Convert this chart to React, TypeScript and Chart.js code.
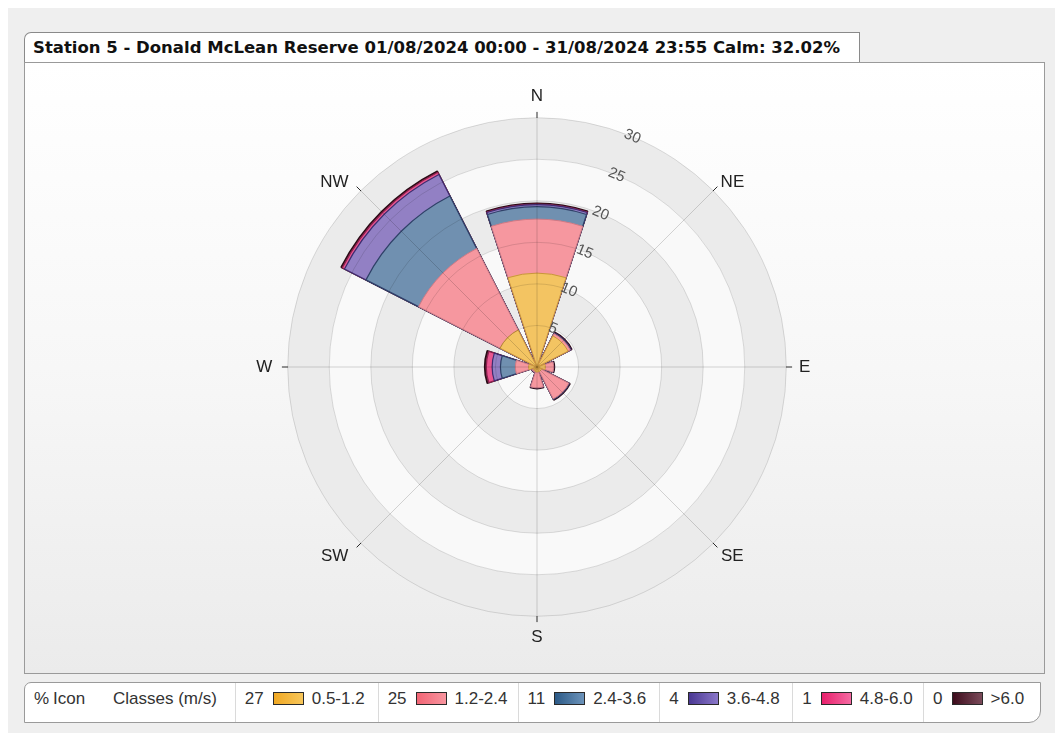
import React, { useEffect, useRef } from 'react';
import { Chart, registerables } from 'chart.js';

Chart.register(...registerables);

// ---------- data ----------
const titleText = 'Station 5 - Donald McLean Reserve 01/08/2024 00:00 - 31/08/2024 23:55 Calm: 32.02%';
const directions = ['N', 'NE', 'E', 'SE', 'S', 'SW', 'W', 'NW'];
const speedClasses = ['0.5-1.2', '1.2-2.4', '2.4-3.6', '3.6-4.8', '4.8-6.0', '>6.0'];
const classPercent = [27, 25, 11, 4, 1, 0];
const compassLabels = ['', 'NE', '', 'E', '', 'SE', '', 'S', '', 'SW', '', 'W', '', 'NW', '', 'N'];
const tickValues = [0, 5, 10, 15, 20, 25, 30];

// frequency (%) per direction, order: N, NE, E, SE, S, SW, W, NW
const class05to12 = [11.3, 4.2, 1.0, 0.6, 0.6, 0.5, 1.0, 5.0];
const class12to24 = [6.5, 0.3, 1.0, 3.7, 1.9, 0.2, 1.6, 11.0];
const class24to36 = [1.5, 0.05, 0.0, 0.05, 0.0, 0.0, 1.8, 7.1];
const class36to48 = [0.25, 0.05, 0.0, 0.0, 0.0, 0.0, 1.0, 2.9];
const class48to60 = [0.06, 0.0, 0.0, 0.0, 0.0, 0.0, 0.7, 0.3];
const classAbove60 = [0.1, 0.1, 0.1, 0.1, 0.1, 0.0, 0.2, 0.15];

const classValues = [class05to12, class12to24, class24to36, class36to48, class48to60, classAbove60];

// ---------- styles ----------
const barFills = ['#f3c462', '#f6979f', '#7090b0', '#9280c4', '#ea5790', '#5e2a3c'];
const barBorders = ['#c9953c', '#cf7a85', '#2f4168', '#3e2c70', '#8c1f4e', '#2a0c16'];
const barBorderWidths = [1, 1, 1.2, 1.2, 1.2, 1.6];
const iconFrom = ['#f0a823', '#f26575', '#2c5a87', '#4a3893', '#e8206c', '#3d0c1c'];
const iconTo = ['#f7c65a', '#f8959f', '#6c93ba', '#8a77c9', '#f56aa2', '#7b4b5a'];

// point label placement tweaks (padding in px, and spacing added to the text side)
const labelPadding: Record<string, number> = { N: -2, S: -2, E: -0.5, W: 2, NE: -16.3, NW: -16.3, SE: -9.2, SW: -9.2 };
const labelLead: Record<string, string> = { NE: '  ', SE: ' ' };
const labelTrail: Record<string, string> = { NW: '   ', SW: '  ' };

// sectors: start at 22.5deg (half-gap), bars 36deg wide, gaps 9deg
const barOrder = ['NE', 'E', 'SE', 'S', 'SW', 'W', 'NW', 'N'];
const barAngle = 36;
const gapAngle = 9;
const scaleMax = 30.7;

function buildSequence(values: number[]): number[] {
  const out: number[] = [0];
  barOrder.forEach((d) => {
    out.push(values[directions.indexOf(d)]);
    out.push(0);
  });
  return out;
}

function buildAngles(): number[] {
  const out: number[] = [gapAngle / 2];
  barOrder.forEach((_, i) => {
    out.push(barAngle);
    out.push(i === barOrder.length - 1 ? gapAngle / 2 : gapAngle);
  });
  return out;
}

const bandsPlugin = {
  id: 'roseBands',
  beforeDatasetsDraw(chart: any) {
    const s = chart.scales.r;
    const ctx = chart.ctx;
    ctx.save();
    for (let i = tickValues.length - 1; i > 0; i--) {
      const r = s.getDistanceFromCenterForValue(tickValues[i]);
      ctx.beginPath();
      ctx.arc(s.xCenter, s.yCenter, r, 0, Math.PI * 2);
      ctx.fillStyle = i % 2 === 0 ? '#ebebeb' : '#f9f9f9';
      ctx.fill();
    }
    ctx.restore();
  },
};

function angleLineColor(c: any) {
  if (!c.label) return 'rgba(0,0,0,0)';
  const s = c.chart.scales.r;
  const rMax = s.getDistanceFromCenterForValue(scaleMax);
  const rOuter = s.getDistanceFromCenterForValue(tickValues[tickValues.length - 1]);
  const g = c.chart.ctx.createRadialGradient(s.xCenter, s.yCenter, 0, s.xCenter, s.yCenter, rMax);
  const t = rOuter / rMax;
  g.addColorStop(0, 'rgba(0,0,0,0.16)');
  g.addColorStop(Math.max(0, t - 0.001), 'rgba(0,0,0,0.16)');
  g.addColorStop(t, 'rgba(40,40,40,1)');
  g.addColorStop(1, 'rgba(40,40,40,1)');
  return g;
}

export default function App() {
  const ref = useRef<HTMLCanvasElement>(null);

  useEffect(() => {
    const angles = buildAngles();
    const cumulative: number[][] = [];
    classValues.forEach((vals, k) => {
      cumulative.push(vals.map((v, d) => v + (k > 0 ? cumulative[k - 1][d] : 0)));
    });
    const seqLabels = buildSequence(directions.map(() => 0)).map((_, i) => String(i));
    const datasets = cumulative.map((cum, k) => {
      const seq = buildSequence(cum);
      return {
        label: speedClasses[k],
        data: seq,
        angle: angles,
        backgroundColor: barFills[k],
        borderColor: barBorders[k],
        borderWidth: seq.map((_, i) => (i % 2 === 1 ? barBorderWidths[k] : 0)),
      };
    });

    const chart = new Chart(ref.current as HTMLCanvasElement, {
      type: 'polarArea',
      data: { labels: seqLabels, datasets: datasets as any },
      options: {
        responsive: false,
        animation: false,
        layout: { padding: 0 },
        plugins: { legend: { display: false }, tooltip: { enabled: false } },
        scales: {
          r: {
            type: 'radialLinear',
            min: 0,
            max: scaleMax,
            startAngle: 22.5,
            labels: compassLabels,
            afterBuildTicks: (axis: any) => {
              axis.ticks = tickValues.map((v) => ({ value: v }));
            },
            ticks: {
              display: true,
              z: 2,
              showLabelBackdrop: false,
              backdropPadding: 0,
              color: '#555',
              font: { family: 'Liberation Sans, Arial, sans-serif', size: 15 },
            },
            grid: { z: 1, circular: true, color: 'rgba(0,0,0,0.12)', lineWidth: 1 },
            angleLines: {
              display: true,
              color: angleLineColor,
              lineWidth: (c: any) => (c.label ? 1 : 0),
            },
            pointLabels: {
              display: true,
              padding: (c: any) => (c.label ? labelPadding[String(c.label).trim()] ?? 0 : 0),
              color: '#222',
              font: { family: 'Liberation Sans, Arial, sans-serif', size: 17 },
              callback: (label: string) => (label ? (labelLead[label] || '') + label + (labelTrail[label] || '') : ''),
            },
          } as any,
        },
      } as any,
      plugins: [bandsPlugin],
    });
    return () => chart.destroy();
  }, []);

  const cellWidths = [210, 143, 140, 142, 133, 131, 117];
  const legendFont = 'Liberation Sans, Arial, sans-serif';

  return (
    <div
      style={{
        position: 'absolute',
        left: 8,
        top: 8,
        width: 1047,
        height: 725,
        background: '#efefef',
        overflow: 'hidden',
      }}
    >
      {/* plot frame */}
      <div
        style={{
          position: 'absolute',
          left: 16,
          top: 54,
          width: 1021,
          height: 612,
          boxSizing: 'border-box',
          border: '1px solid #9a9a9a',
          background: 'linear-gradient(180deg, #ffffff 0%, #f7f7f7 50%, #ebebeb 100%)',
        }}
      />
      {/* title tab */}
      <div
        style={{
          position: 'absolute',
          left: 16,
          top: 24,
          width: 836,
          height: 30,
          boxSizing: 'border-box',
          borderTop: '1px solid #8a8a8a',
          borderLeft: '1px solid #8a8a8a',
          borderRight: '1px solid #8a8a8a',
          borderTopLeftRadius: 7,
          background: '#ffffff',
          fontFamily: 'DejaVu Sans, Verdana, sans-serif',
          fontWeight: 'bold',
          fontSize: 16.5,
          lineHeight: '29px',
          color: '#111',
          paddingLeft: 8,
          whiteSpace: 'nowrap',
        }}
      >
        {titleText}
      </div>
      {/* chart */}
      <canvas
        ref={ref}
        width={700}
        height={563}
        style={{ position: 'absolute', left: 179, top: 78, width: 700, height: 563 }}
      />
      {/* legend */}
      <div
        style={{
          position: 'absolute',
          left: 16,
          top: 674,
          width: 1017,
          height: 41,
          boxSizing: 'border-box',
          border: '1px solid #9a9a9a',
          borderTopLeftRadius: 7,
          borderBottomRightRadius: 12,
          background: '#ffffff',
          display: 'flex',
          fontFamily: legendFont,
          fontSize: 17,
          color: '#333',
          whiteSpace: 'nowrap',
        }}
      >
        <div style={{ width: cellWidths[0], height: '100%', position: 'relative', boxSizing: 'border-box' }}>
          <span style={{ position: 'absolute', left: 9, top: 0, lineHeight: '32px' }}>%</span>
          <span style={{ position: 'absolute', left: 28, top: 0, lineHeight: '32px' }}>Icon</span>
          <span style={{ position: 'absolute', left: 88, top: 0, lineHeight: '32px' }}>Classes (m/s)</span>
        </div>
        {speedClasses.map((cls, k) => (
          <div
            key={cls}
            style={{
              width: cellWidths[k + 1],
              height: '100%',
              boxSizing: 'border-box',
              borderLeft: '1px solid #dadada',
              display: 'flex',
              alignItems: 'center',
              paddingLeft: 9,
              paddingBottom: 8,
            }}
          >
            <span>{classPercent[k]}</span>
            <span
              style={{
                display: 'inline-block',
                width: 29,
                height: 11,
                marginLeft: 9,
                marginRight: 8,
                border: '1px solid #2a2a2a',
                background: `linear-gradient(90deg, ${iconFrom[k]}, ${iconTo[k]})`,
              }}
            />
            <span>{cls}</span>
          </div>
        ))}
      </div>
    </div>
  );
}
